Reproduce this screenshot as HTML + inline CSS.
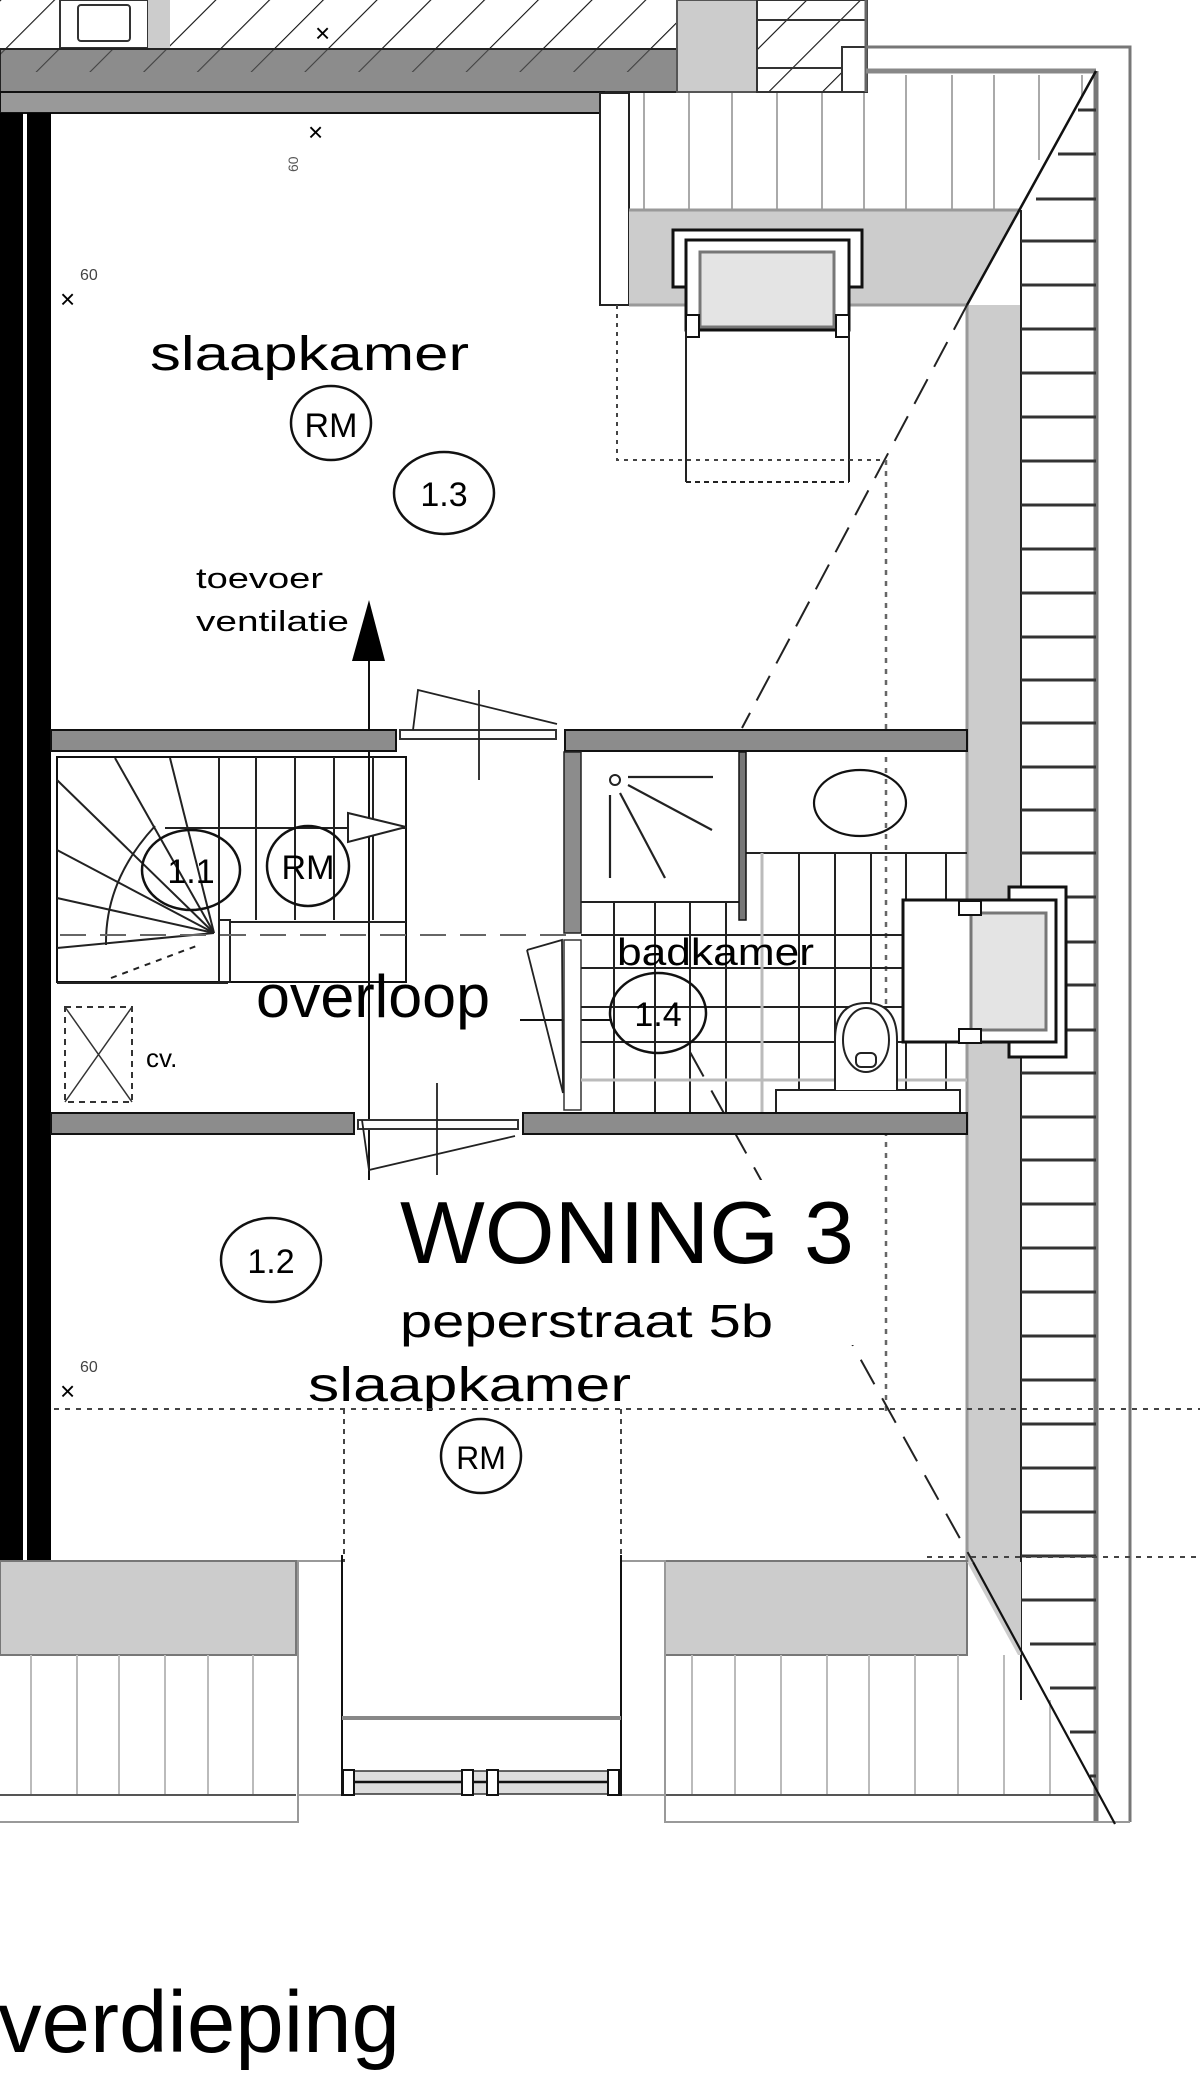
<!DOCTYPE html>
<html><head><meta charset="utf-8"><style>html,body{margin:0;padding:0;background:#fff}svg{display:block}</style></head><body>
<svg width="1200" height="2095" viewBox="0 0 1200 2095" xmlns="http://www.w3.org/2000/svg" font-family="Liberation Sans, Arial, sans-serif">
<defs>
<pattern id="h" width="38" height="38" patternUnits="userSpaceOnUse" patternTransform="rotate(45)"><line x1="0" y1="0" x2="0" y2="38" stroke="#111" stroke-width="2.2"/></pattern>
</defs>
<rect width="1200" height="2095" fill="#fff"/>
<rect x="0" y="0" width="677" height="50" fill="url(#h)"/>
<rect x="60" y="0" width="88" height="48" fill="#fff" stroke="#333" stroke-width="2"/>
<rect x="78" y="5" width="52" height="36" fill="none" stroke="#333" stroke-width="2" rx="3"/>
<rect x="148" y="0" width="22" height="48" fill="#ccc"/>
<text x="315" y="42" font-size="26">×</text>
<rect x="0" y="49" width="677" height="43" fill="#8c8c8c" stroke="#222" stroke-width="2"/>
<rect x="0" y="50" width="677" height="22" fill="url(#h)" opacity=".6"/>
<rect x="0" y="92" width="604" height="21" fill="#999" stroke="#111" stroke-width="2"/>
<rect x="677" y="0" width="80" height="92" fill="#ccc" stroke="#555" stroke-width="2"/>
<rect x="757" y="0" width="110" height="92" fill="url(#h)" stroke="#333" stroke-width="2"/>
<line x1="757" y1="20" x2="866" y2="20" stroke="#333" stroke-width="2"/>
<line x1="757" y1="68" x2="866" y2="68" stroke="#333" stroke-width="2"/>
<rect x="842" y="47" width="24" height="45" fill="#fff" stroke="#333" stroke-width="2"/>
<line x1="866" y1="0" x2="866" y2="92" stroke="#666" stroke-width="3"/>
<polyline points="866,47 1130,47 1130,1822" fill="none" stroke="#777" stroke-width="3"/>
<line x1="866" y1="71" x2="1096" y2="71" stroke="#888" stroke-width="5"/>
<rect x="629" y="93" width="460" height="117" fill="#fff"/>
<g stroke="#aaa" stroke-width="2">
<line x1="644" y1="93" x2="644" y2="210"/><line x1="689" y1="93" x2="689" y2="210"/><line x1="732" y1="93" x2="732" y2="210"/><line x1="777" y1="93" x2="777" y2="210"/><line x1="822" y1="93" x2="822" y2="210"/><line x1="864" y1="93" x2="864" y2="210"/><line x1="906" y1="75" x2="906" y2="210"/><line x1="952" y1="75" x2="952" y2="210"/><line x1="994" y1="75" x2="994" y2="210"/><line x1="1039" y1="75" x2="1039" y2="160"/><line x1="1082" y1="75" x2="1082" y2="100"/>
</g>
<rect x="600" y="93" width="29" height="212" fill="#fff" stroke="#222" stroke-width="2"/>
<polygon points="629,210 1021,210 967,305 629,305" fill="#ccc"/>
<line x1="629" y1="210" x2="1021" y2="210" stroke="#999" stroke-width="3"/>
<line x1="629" y1="305" x2="967" y2="305" stroke="#999" stroke-width="3"/>
<rect x="967" y="305" width="54" height="1257" fill="#ccc"/>
<polygon points="1021,210 1096,71 1096,210" fill="#fff"/>
<line x1="967" y1="305" x2="967" y2="1562" stroke="#999" stroke-width="3"/>
<line x1="1021" y1="210" x2="1021" y2="1700" stroke="#222" stroke-width="2"/>
<line x1="1096" y1="71" x2="1096" y2="1822" stroke="#777" stroke-width="5"/>
<g stroke="#333" stroke-width="3">
<line x1="1078" y1="110" x2="1096" y2="110"/><line x1="1058" y1="154" x2="1096" y2="154"/><line x1="1036" y1="199" x2="1096" y2="199"/>
<line x1="1021" y1="241" x2="1096" y2="241"/><line x1="1021" y1="285" x2="1096" y2="285"/><line x1="1021" y1="329" x2="1096" y2="329"/><line x1="1021" y1="373" x2="1096" y2="373"/><line x1="1021" y1="417" x2="1096" y2="417"/><line x1="1021" y1="461" x2="1096" y2="461"/><line x1="1021" y1="505" x2="1096" y2="505"/><line x1="1021" y1="549" x2="1096" y2="549"/><line x1="1021" y1="593" x2="1096" y2="593"/><line x1="1021" y1="637" x2="1096" y2="637"/><line x1="1021" y1="680" x2="1096" y2="680"/><line x1="1021" y1="723" x2="1096" y2="723"/><line x1="1021" y1="767" x2="1096" y2="767"/><line x1="1021" y1="810" x2="1096" y2="810"/><line x1="1021" y1="853" x2="1096" y2="853"/><line x1="1021" y1="897" x2="1096" y2="897"/><line x1="1021" y1="942" x2="1096" y2="942"/><line x1="1021" y1="985" x2="1096" y2="985"/><line x1="1021" y1="1030" x2="1096" y2="1030"/><line x1="1021" y1="1073" x2="1096" y2="1073"/><line x1="1021" y1="1117" x2="1096" y2="1117"/><line x1="1021" y1="1160" x2="1096" y2="1160"/><line x1="1021" y1="1204" x2="1096" y2="1204"/><line x1="1021" y1="1248" x2="1096" y2="1248"/><line x1="1021" y1="1292" x2="1096" y2="1292"/><line x1="1021" y1="1336" x2="1096" y2="1336"/><line x1="1021" y1="1380" x2="1096" y2="1380"/><line x1="1021" y1="1424" x2="1096" y2="1424"/><line x1="1021" y1="1468" x2="1096" y2="1468"/><line x1="1021" y1="1512" x2="1096" y2="1512"/><line x1="1021" y1="1556" x2="1096" y2="1556"/><line x1="1021" y1="1600" x2="1096" y2="1600"/><line x1="1030" y1="1644" x2="1096" y2="1644"/><line x1="1050" y1="1688" x2="1096" y2="1688"/><line x1="1070" y1="1732" x2="1096" y2="1732"/><line x1="1090" y1="1776" x2="1096" y2="1776"/>
</g>
<line x1="1096" y1="71" x2="967" y2="305" stroke="#111" stroke-width="2.5"/>
<line x1="967" y1="305" x2="742" y2="728" stroke="#222" stroke-width="2" stroke-dasharray="28,14"/>
<rect x="673" y="230" width="189" height="57" fill="#fff" stroke="#111" stroke-width="3"/>
<rect x="686" y="240" width="163" height="90" fill="#fff" stroke="#111" stroke-width="3"/>
<rect x="700" y="252" width="134" height="75" fill="#e4e4e4" stroke="#777" stroke-width="3"/>
<rect x="686" y="315" width="13" height="22" fill="#fff" stroke="#111" stroke-width="2"/>
<rect x="836" y="315" width="13" height="22" fill="#fff" stroke="#111" stroke-width="2"/>
<polyline points="686,330 686,482" fill="none" stroke="#222" stroke-width="2"/>
<polyline points="849,330 849,482" fill="none" stroke="#222" stroke-width="2"/>
<line x1="686" y1="482" x2="849" y2="482" stroke="#222" stroke-width="2" stroke-dasharray="5,4"/>
<polyline points="617,305 617,460 886,460" fill="none" stroke="#444" stroke-width="2" stroke-dasharray="4,5"/>
<line x1="886" y1="460" x2="886" y2="1412" stroke="#666" stroke-width="2.5" stroke-dasharray="5,6"/>
<rect x="0" y="113" width="23" height="1449" fill="#000"/>
<rect x="27" y="113" width="24" height="1449" fill="#000"/>
<text x="150" y="370" font-size="48" textLength="319" lengthAdjust="spacingAndGlyphs">slaapkamer</text>
<ellipse cx="331" cy="423" rx="40" ry="37" fill="none" stroke="#111" stroke-width="2.5"/>
<text x="331" y="437" font-size="34" text-anchor="middle">RM</text>
<ellipse cx="444" cy="493" rx="50" ry="41" fill="none" stroke="#111" stroke-width="2.5"/>
<text x="444" y="506" font-size="34" text-anchor="middle">1.3</text>
<text x="196" y="588" font-size="29" textLength="127" lengthAdjust="spacingAndGlyphs">toevoer</text>
<text x="196" y="631" font-size="29" textLength="153" lengthAdjust="spacingAndGlyphs">ventilatie</text>
<line x1="369" y1="655" x2="369" y2="1180" stroke="#111" stroke-width="2"/>
<polygon points="369,600 352,661 385,661" fill="#000"/>
<text x="308" y="141" font-size="26">×</text>
<text x="298" y="172" font-size="14" fill="#555" transform="rotate(-90 298 172)">60</text>
<text x="60" y="308" font-size="26">×</text>
<text x="80" y="280" font-size="16" fill="#444">60</text>
<rect x="51" y="730" width="345" height="21" fill="#8c8c8c" stroke="#111" stroke-width="2"/>
<rect x="565" y="730" width="402" height="21" fill="#8c8c8c" stroke="#111" stroke-width="2"/>
<rect x="400" y="730" width="156" height="9" fill="#fff" stroke="#333" stroke-width="2"/>
<polyline points="413,730 418,690 557,724" fill="none" stroke="#222" stroke-width="1.8"/>
<line x1="479" y1="690" x2="479" y2="780" stroke="#222" stroke-width="1.8"/>
<rect x="57" y="757" width="349" height="225" fill="none" stroke="#111" stroke-width="2"/>
<g stroke="#222" stroke-width="2">
<line x1="219" y1="757" x2="219" y2="920"/><line x1="256" y1="757" x2="256" y2="920"/><line x1="295" y1="757" x2="295" y2="920"/><line x1="334" y1="757" x2="334" y2="920"/><line x1="373" y1="757" x2="373" y2="920"/>
<line x1="165" y1="828" x2="406" y2="828"/><line x1="230" y1="922" x2="406" y2="922"/>
<line x1="214" y1="933" x2="57" y2="780"/><line x1="214" y1="933" x2="115" y2="758"/><line x1="214" y1="933" x2="170" y2="758"/>
<line x1="214" y1="933" x2="57" y2="850"/><line x1="214" y1="933" x2="57" y2="898"/><line x1="214" y1="933" x2="57" y2="948"/>
<path d="M155,826 Q105,880 106,945" fill="none"/>
<line x1="57" y1="983" x2="228" y2="983"/>
<rect x="219" y="920" width="11" height="62" fill="#fff"/>
</g>
<line x1="111" y1="978" x2="199" y2="945" stroke="#222" stroke-width="2" stroke-dasharray="6,6"/>
<line x1="60" y1="935" x2="569" y2="935" stroke="#666" stroke-width="2" stroke-dasharray="26,14"/>
<polygon points="348,813 406,827 348,842" fill="#fff" stroke="#222" stroke-width="2"/>
<ellipse cx="191" cy="870" rx="49" ry="40" fill="none" stroke="#111" stroke-width="2.5"/>
<text x="191" y="883" font-size="34" text-anchor="middle">1.1</text>
<ellipse cx="308" cy="866" rx="41" ry="40" fill="none" stroke="#111" stroke-width="2.5"/>
<text x="308" y="879" font-size="34" text-anchor="middle">RM</text>
<rect x="65" y="1007" width="67" height="95" fill="none" stroke="#333" stroke-width="2" stroke-dasharray="6,5"/>
<line x1="65" y1="1007" x2="132" y2="1102" stroke="#333" stroke-width="1.5"/><line x1="132" y1="1007" x2="65" y2="1102" stroke="#333" stroke-width="1.5"/>
<text x="146" y="1067" font-size="26">cv.</text>
<text x="256" y="1017" font-size="60" textLength="234" lengthAdjust="spacingAndGlyphs">overloop</text>
<line x1="520" y1="1020" x2="612" y2="1020" stroke="#111" stroke-width="2"/>
<rect x="564" y="752" width="17" height="181" fill="#8c8c8c" stroke="#222" stroke-width="1.5"/>
<rect x="564" y="940" width="17" height="170" fill="#fff" stroke="#333" stroke-width="1.5"/>
<polyline points="527,950 562,940 563,1093" fill="none" stroke="#222" stroke-width="1.8"/>
<line x1="527" y1="950" x2="563" y2="1093" stroke="#222" stroke-width="1.8"/>
<g stroke="#222" stroke-width="2">
<line x1="614" y1="902" x2="614" y2="1113"/><line x1="655" y1="902" x2="655" y2="1113"/><line x1="690" y1="902" x2="690" y2="1113"/><line x1="726" y1="902" x2="726" y2="1113"/>
<line x1="799" y1="853" x2="799" y2="1090"/><line x1="835" y1="853" x2="835" y2="1090"/><line x1="871" y1="853" x2="871" y2="1090"/><line x1="906" y1="853" x2="906" y2="1090"/><line x1="946" y1="853" x2="946" y2="1090"/>
<line x1="581" y1="935" x2="906" y2="935"/><line x1="581" y1="968" x2="906" y2="968"/><line x1="581" y1="1007" x2="906" y2="1007"/><line x1="581" y1="1042" x2="906" y2="1042"/>
<line x1="746" y1="853" x2="967" y2="853"/><line x1="581" y1="902" x2="746" y2="902"/>
</g>
<line x1="762" y1="853" x2="762" y2="1113" stroke="#bbb" stroke-width="3"/>
<line x1="581" y1="1080" x2="967" y2="1080" stroke="#bbb" stroke-width="3"/>
<rect x="739" y="752" width="7" height="168" fill="#777" stroke="#111" stroke-width="1.5"/>
<circle cx="615" cy="780" r="5" fill="#fff" stroke="#222" stroke-width="2"/>
<g stroke="#222" stroke-width="2.2"><line x1="628" y1="777" x2="713" y2="777"/><line x1="628" y1="785" x2="712" y2="830"/><line x1="620" y1="793" x2="665" y2="878"/><line x1="610" y1="795" x2="610" y2="878"/></g>
<ellipse cx="860" cy="803" rx="46" ry="33" fill="none" stroke="#111" stroke-width="2.2"/>
<rect x="1009" y="887" width="57" height="170" fill="#fff" stroke="#111" stroke-width="3"/>
<rect x="903" y="900" width="153" height="142" fill="#fff" stroke="#111" stroke-width="3"/>
<rect x="971" y="913" width="75" height="117" fill="#e4e4e4" stroke="#777" stroke-width="3"/>
<rect x="959" y="901" width="22" height="14" fill="#fff" stroke="#111" stroke-width="2"/>
<rect x="959" y="1029" width="22" height="14" fill="#fff" stroke="#111" stroke-width="2"/>
<rect x="776" y="1090" width="184" height="25" fill="#fff" stroke="#222" stroke-width="2"/>
<path d="M835,1090 L835,1040 Q835,1003 866,1003 Q897,1003 897,1040 L897,1090" fill="#fff" stroke="#222" stroke-width="2"/>
<ellipse cx="866" cy="1040" rx="23" ry="32" fill="none" stroke="#222" stroke-width="2"/>
<rect x="856" y="1053" width="20" height="14" rx="5" fill="none" stroke="#222" stroke-width="2"/>
<text x="617" y="965" font-size="38" textLength="197" lengthAdjust="spacingAndGlyphs">badkamer</text>
<ellipse cx="658" cy="1013" rx="48" ry="40" fill="none" stroke="#111" stroke-width="2.5"/>
<text x="658" y="1026" font-size="34" text-anchor="middle">1.4</text>
<line x1="690" y1="1052" x2="973" y2="1562" stroke="#222" stroke-width="2" stroke-dasharray="28,16"/>
<rect x="51" y="1113" width="303" height="21" fill="#8c8c8c" stroke="#111" stroke-width="2"/>
<rect x="523" y="1113" width="444" height="21" fill="#8c8c8c" stroke="#111" stroke-width="2"/>
<rect x="358" y="1120" width="160" height="9" fill="#fff" stroke="#333" stroke-width="2"/>
<polyline points="362,1120 369,1170 515,1136" fill="none" stroke="#222" stroke-width="1.8"/>
<line x1="437" y1="1083" x2="437" y2="1175" stroke="#222" stroke-width="1.8"/>
<rect x="395" y="1180" width="460" height="165" fill="#fff"/>
<text x="400" y="1263" font-size="88" textLength="454" lengthAdjust="spacingAndGlyphs">WONING 3</text>
<text x="400" y="1337" font-size="46" textLength="373" lengthAdjust="spacingAndGlyphs">peperstraat 5b</text>
<text x="308" y="1401" font-size="48" textLength="323" lengthAdjust="spacingAndGlyphs">slaapkamer</text>
<ellipse cx="271" cy="1260" rx="50" ry="42" fill="none" stroke="#111" stroke-width="2.5"/>
<text x="271" y="1273" font-size="34" text-anchor="middle">1.2</text>
<ellipse cx="481" cy="1456" rx="40" ry="37" fill="none" stroke="#111" stroke-width="2.5"/>
<text x="481" y="1469" font-size="32" text-anchor="middle">RM</text>
<text x="60" y="1400" font-size="26">×</text>
<text x="80" y="1372" font-size="16" fill="#444">60</text>
<line x1="54" y1="1409" x2="1200" y2="1409" stroke="#444" stroke-width="2" stroke-dasharray="5,6"/>
<line x1="344" y1="1409" x2="344" y2="1562" stroke="#444" stroke-width="2" stroke-dasharray="5,5"/>
<line x1="621" y1="1409" x2="621" y2="1562" stroke="#444" stroke-width="2" stroke-dasharray="5,5"/>
<line x1="927" y1="1557" x2="1200" y2="1557" stroke="#444" stroke-width="2" stroke-dasharray="5,6"/>
<rect x="0" y="1561" width="296" height="94" fill="#ccc" stroke="#777" stroke-width="2"/>
<rect x="665" y="1561" width="302" height="94" fill="#ccc" stroke="#777" stroke-width="2"/>
<polygon points="967,1562 1021,1562 1021,1655 1018,1655" fill="#ccc"/>
<g stroke="#bbb" stroke-width="2">
<line x1="31" y1="1655" x2="31" y2="1795"/><line x1="77" y1="1655" x2="77" y2="1795"/><line x1="119" y1="1655" x2="119" y2="1795"/><line x1="165" y1="1655" x2="165" y2="1795"/><line x1="208" y1="1655" x2="208" y2="1795"/><line x1="253" y1="1655" x2="253" y2="1795"/>
<line x1="692" y1="1655" x2="692" y2="1795"/><line x1="735" y1="1655" x2="735" y2="1795"/><line x1="781" y1="1655" x2="781" y2="1795"/><line x1="827" y1="1655" x2="827" y2="1795"/><line x1="869" y1="1655" x2="869" y2="1795"/><line x1="915" y1="1655" x2="915" y2="1795"/><line x1="958" y1="1655" x2="958" y2="1795"/><line x1="1004" y1="1655" x2="1004" y2="1795"/><line x1="1050" y1="1700" x2="1050" y2="1795"/>
</g>
<line x1="0" y1="1795" x2="296" y2="1795" stroke="#555" stroke-width="2"/>
<line x1="665" y1="1795" x2="1096" y2="1795" stroke="#555" stroke-width="2"/>
<polyline points="0,1822 298,1822 298,1561" fill="none" stroke="#999" stroke-width="2"/>
<polyline points="665,1561 665,1822 1130,1822" fill="none" stroke="#999" stroke-width="2"/>
<rect x="298" y="1561" width="44" height="234" fill="#fff" stroke="#999" stroke-width="2"/>
<rect x="621" y="1561" width="44" height="234" fill="#fff" stroke="#999" stroke-width="2"/>
<line x1="342" y1="1555" x2="342" y2="1796" stroke="#111" stroke-width="2"/>
<line x1="621" y1="1555" x2="621" y2="1796" stroke="#111" stroke-width="2"/>
<line x1="342" y1="1718" x2="621" y2="1718" stroke="#888" stroke-width="4"/>
<rect x="344" y="1771" width="275" height="23" fill="#ddd" stroke="#333" stroke-width="1.5"/>
<line x1="344" y1="1782" x2="619" y2="1782" stroke="#111" stroke-width="2.5"/>
<rect x="343" y="1770" width="11" height="25" fill="#fff" stroke="#111" stroke-width="2"/>
<rect x="462" y="1770" width="11" height="25" fill="#fff" stroke="#111" stroke-width="2"/>
<rect x="487" y="1770" width="11" height="25" fill="#fff" stroke="#111" stroke-width="2"/>
<rect x="608" y="1770" width="11" height="25" fill="#fff" stroke="#111" stroke-width="2"/>
<line x1="973" y1="1562" x2="1115" y2="1824" stroke="#111" stroke-width="2.2"/>
<text x="-2" y="2052" font-size="87" textLength="402" lengthAdjust="spacingAndGlyphs">verdieping</text>
</svg>
</body></html>
